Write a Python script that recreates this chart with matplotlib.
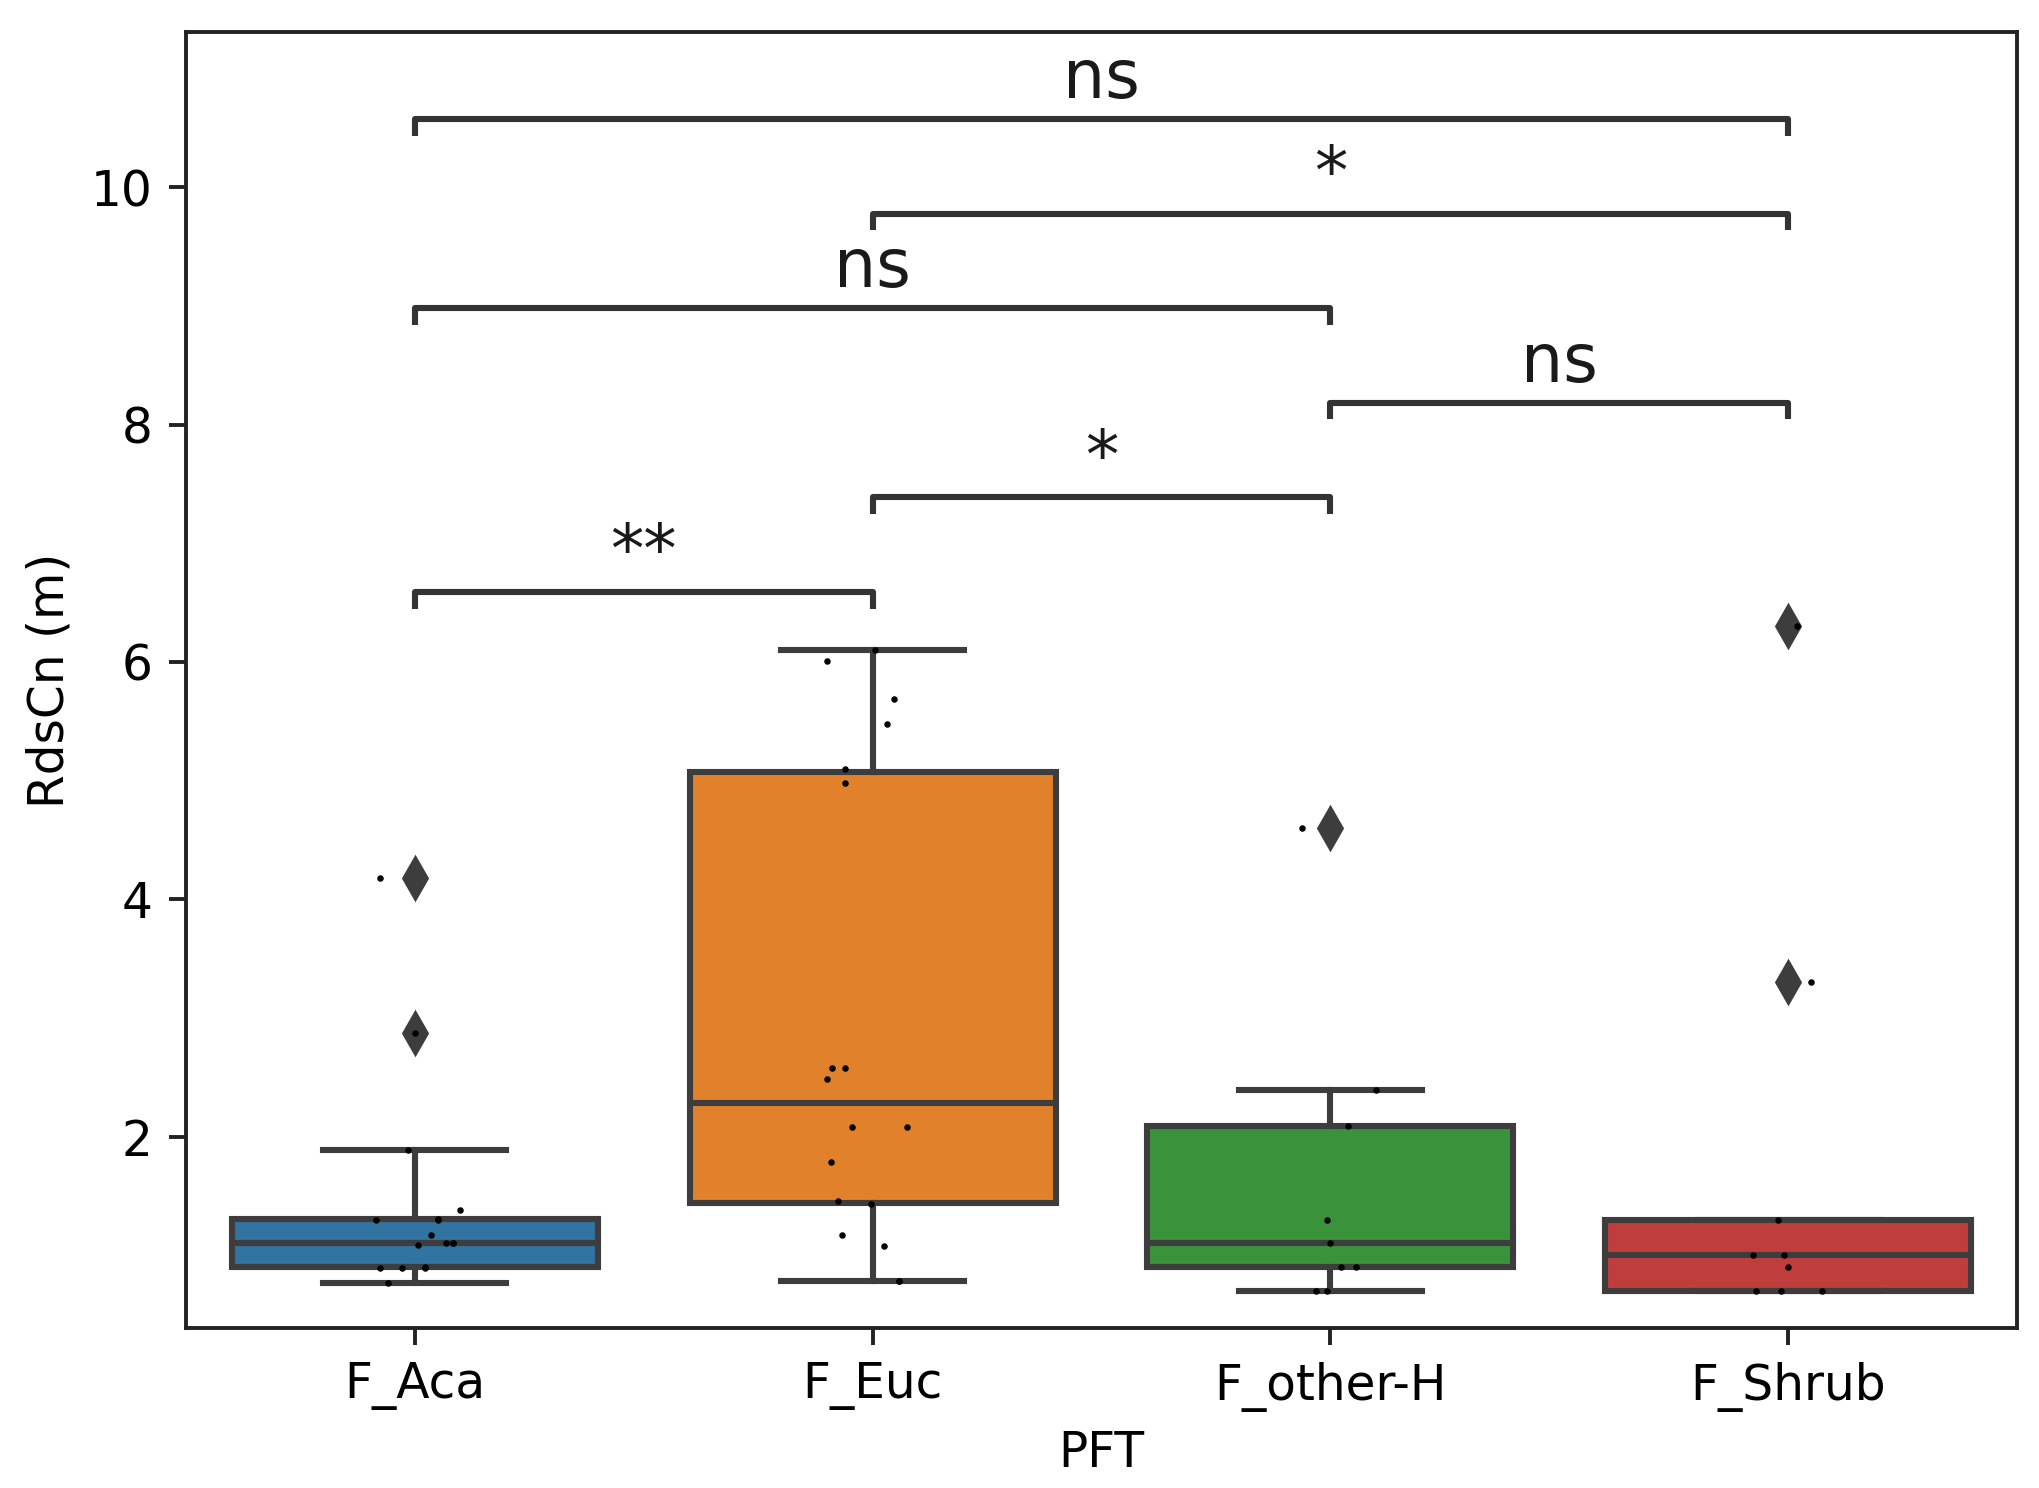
import numpy as np
import matplotlib
matplotlib.use("Agg")
import matplotlib.pyplot as plt

# ── data ──────────────────────────────────────────────────────────────────
CATS = ['F_Aca', 'F_Euc', 'F_other-H', 'F_Shrub']

ACA = [4.18, 2.87, 1.89, 1.38, 1.30, 1.30, 1.31, 1.17, 1.09, 1.10, 1.10, 1.10,
       0.89, 0.89, 0.89, 0.90, 0.77]
EUC = [6.10, 6.01, 5.69, 5.48, 5.10, 4.98, 2.58, 2.58, 2.49, 2.08, 2.08, 1.79,
       1.46, 1.43, 1.17, 1.08, 0.78, 0.78]
OTH = [4.60, 2.39, 2.09, 1.30, 1.10, 0.90, 0.90, 0.70, 0.70]
SHR = [6.30, 3.30, 1.30, 1.00, 1.00, 0.90, 0.70, 0.70, 0.70]

# horizontal strip jitter (category units)
ACA_JIT = [-0.076, 0.0, -0.015, 0.098, -0.084, 0.051, 0.051, 0.036, 0.007,
           0.069, 0.084, 0.084, -0.076, -0.029, 0.022, 0.022, -0.058]
EUC_JIT = [0.006, -0.100, 0.046, 0.031, -0.060, -0.060, -0.089, -0.060,
           -0.100, -0.045, 0.075, -0.091, -0.075, -0.004, -0.067, 0.024,
           0.057, 0.057]
OTH_JIT = [-0.062, 0.100, 0.039, -0.007, 0.0, 0.023, 0.055, -0.031, -0.007]
SHR_JIT = [0.020, 0.051, -0.023, -0.077, -0.009, 0.0, -0.070, -0.016, 0.075]

# significance annotations
PAIRS    = [(0, 1), (1, 2), (2, 3), (0, 2), (1, 3), (0, 3)]
P_LABELS = ['**', '*', 'ns', 'ns', '*', 'ns']

# ── style ─────────────────────────────────────────────────────────────────
COLORS = ['#3274a1', '#e1812c', '#3a923a', '#c03d3e']
GRAY   = '#3d3d3d'
FS     = 35
LW     = 4.4

plt.rcParams['font.family'] = ['DejaVu Sans']

fig = plt.figure(figsize=(20.4, 14.88), dpi=100)
ax = fig.add_axes([0.0912, 0.1073, 0.8975, 0.8714])

groups = [ACA, EUC, OTH, SHR]
jitter = [ACA_JIT, EUC_JIT, OTH_JIT, SHR_JIT]
pos = np.arange(len(CATS))

bp = ax.boxplot(groups, positions=pos, widths=0.8, patch_artist=True,
                whis=1.5, manage_ticks=False,
                boxprops=dict(edgecolor=GRAY, linewidth=LW),
                medianprops=dict(color=GRAY, linewidth=LW),
                whiskerprops=dict(color=GRAY, linewidth=LW),
                capprops=dict(color=GRAY, linewidth=LW),
                capwidths=0.4,
                flierprops=dict(marker='d', markersize=21,
                                markerfacecolor=GRAY, markeredgecolor=GRAY,
                                markeredgewidth=2))
for patch, c in zip(bp['boxes'], COLORS):
    patch.set_facecolor(c)

# strip points
for i, (vals, jit) in enumerate(zip(groups, jitter)):
    ax.scatter(i + np.array(jit), vals, s=22, color='black', lw=0, zorder=4)

# ── brackets ──────────────────────────────────────────────────────────────
BR_OFFSET = 0.49
BR_STEP   = 0.797
TIP       = 0.14
y_base = max(EUC) + BR_OFFSET
for k, ((a, b), lab) in enumerate(zip(PAIRS, P_LABELS)):
    y = y_base + BR_STEP * k
    ax.plot([a, a, b, b], [y - TIP, y, y, y - TIP], color='0.2', lw=LW,
            solid_capstyle='butt', zorder=5)
    dy = 15 if lab == 'ns' else 14
    ax.annotate(lab, xy=((a + b) / 2, y), xytext=(0, dy),
                textcoords='offset points', ha='center', va='baseline',
                fontsize=48, color='#1a1a1a')

# ── axes ──────────────────────────────────────────────────────────────────
ax.set_xlim(-0.5, 3.5)
ax.set_ylim(0.385, 11.31)
ax.set_xticks(pos)
ax.set_xticklabels(CATS)
ax.set_yticks([2, 4, 6, 8, 10])
ax.tick_params(labelsize=FS, length=12.25, width=2.8, pad=12, color='#222222')
for s in ax.spines.values():
    s.set_linewidth(2.8)
    s.set_color('#222222')
ax.set_xlabel('PFT', fontsize=FS, labelpad=12)
ax.set_ylabel('RdsCn (m)', fontsize=FS, labelpad=12)

fig.savefig('out.png', dpi=100, facecolor='white')
